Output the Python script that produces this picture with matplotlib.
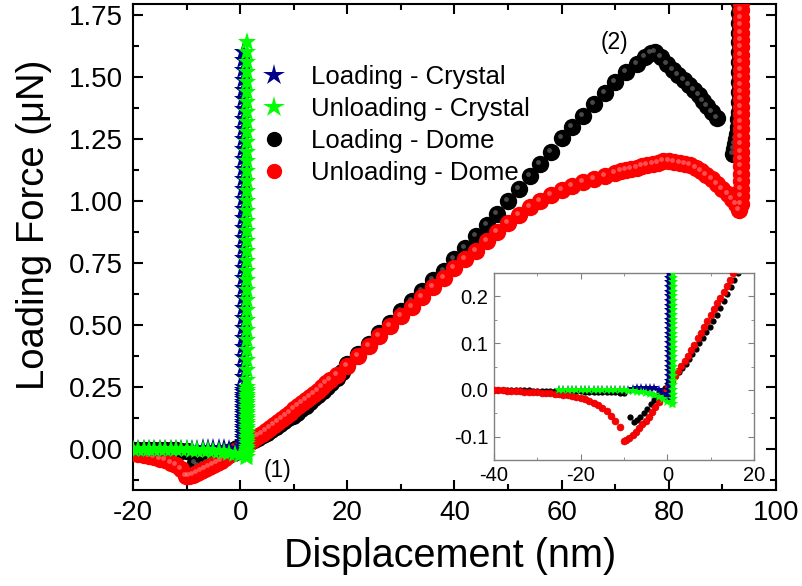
import matplotlib
matplotlib.use("Agg")
import matplotlib.pyplot as plt
from matplotlib.ticker import MultipleLocator
from matplotlib.transforms import offset_copy

plt.rcParams['font.family'] = ['Liberation Sans', 'DejaVu Sans']
plt.rcParams['axes.unicode_minus'] = False

# Loading - Crystal: approach, then vertical rise at one x
lc_app_x = [-25, -24, -23, -22, -21, -20, -19, -18, -17, -16, -15, -14, -13, -12, -11,
            -10, -9, -8, -7, -6, -5, -4, -3, -2, -1, 0.0]
lc_app_y = [0.0, 0.0, 0.0, 0.0, 0.0, 0.0, 0.0, 0.0, 0.0, 0.0, 0.0, 0.0, 0.0, 0.0, 0.0,
            0.0, 0.0, 0.001, 0.003, 0.004, 0.005, 0.005, 0.004, 0.0, -0.008, -0.015]
lc_rise_x = 0.5
lc_rise_y = [-0.02, -0.01, 0.0, 0.01, 0.02, 0.03, 0.04, 0.05, 0.06, 0.07, 0.08, 0.09,
             0.10, 0.11, 0.12, 0.13, 0.14, 0.15, 0.16, 0.17, 0.18, 0.19, 0.20, 0.21,
             0.22, 0.23, 0.24, 0.25, 0.29, 0.33, 0.37, 0.41, 0.45, 0.49, 0.53, 0.57,
             0.61, 0.65, 0.69, 0.73, 0.77, 0.81, 0.85, 0.89, 0.93, 0.97, 1.01, 1.05,
             1.09, 1.13, 1.17, 1.21, 1.25, 1.29, 1.33, 1.37, 1.41, 1.45, 1.49, 1.53,
             1.57, 1.60]

# Unloading - Crystal: vertical drop at one x, then back out
uc_drop_x = 1.3
uc_drop_y = [1.64, 1.60, 1.56, 1.52, 1.48, 1.44, 1.40, 1.36, 1.32, 1.28, 1.24, 1.20,
             1.16, 1.12, 1.08, 1.04, 1.00, 0.96, 0.92, 0.88, 0.84, 0.80, 0.76, 0.72,
             0.68, 0.64, 0.60, 0.56, 0.52, 0.48, 0.44, 0.40, 0.36, 0.32, 0.28, 0.25,
             0.24, 0.23, 0.22, 0.21, 0.20, 0.19, 0.18, 0.17, 0.16, 0.15, 0.14, 0.13,
             0.12, 0.11, 0.10, 0.09, 0.08, 0.07, 0.06, 0.05, 0.04, 0.03, 0.02, 0.01,
             0.0, -0.01, -0.02, -0.03]
uc_ret_x = [1.0, 0.0, -1, -2, -3, -4, -5, -6, -7, -8, -9, -10, -11, -12, -13, -14, -15,
            -16, -17, -18, -19, -20, -21, -22, -23, -24, -25]
uc_ret_y = [-0.03, -0.025, -0.02, -0.016, -0.012, -0.009, -0.007, -0.005, -0.004,
            -0.003, -0.002, -0.001, 0.0, 0.0, 0.0, 0.0, 0.0, 0.0, 0.0, 0.0, 0.0, 0.0,
            0.0, 0.0, 0.0, 0.0, 0.0]

# Loading - Dome
ld_x = [-40, -39, -38, -37, -36, -35, -34, -33, -32, -31, -30, -29, -28, -27, -26, -25,
        -24, -23, -22, -21, -20, -19, -18, -17, -16, -15, -14, -13, -12, -11, -10,
        -8.5, -7.8, -7.0, -6.2, -5.4, -4.6, -3.8, -3.0, -2.2, -1.4, -0.6, 0.2, 1.0, 1.8,
        2.6, 3.4, 4.2, 5.0, 5.8, 6.6, 7.4, 8.2, 9.0, 9.8, 10.6, 11.4, 12.2, 13.0, 13.8,
        14.6, 15.4, 16.2, 17, 18, 19, 20, 22, 24, 26, 28, 30, 32, 34, 36, 38, 40, 42, 44,
        46, 48, 50, 52, 54, 56, 58, 60, 62, 64, 66, 68, 70, 72, 74, 75.5, 76.6,
        77.5, 78.5, 79.6, 80.7, 81.8, 82.8, 83.8, 84.7, 85.6, 86.4, 87.2, 88.0, 88.9,
        92.0, 92.2, 92.4, 92.6, 92.8, 93.0, 93.0, 93.1, 93.1, 93.1, 93.1, 93.1, 93.1,
        93.1, 93.1, 93.1, 93.1, 93.1, 93.1, 93.1, 93.1]
ld_y = [0.0, 0.0, 0.0, 0.0, -0.001, -0.001, -0.001, -0.001, -0.001, -0.002, -0.002,
        -0.002, -0.002, -0.002, -0.002, -0.003, -0.003, -0.003, -0.003, -0.003, -0.003,
        -0.004, -0.004, -0.004, -0.004, -0.005, -0.005, -0.005, -0.005, -0.006, -0.006,
        -0.058, -0.068, -0.064, -0.057, -0.049, -0.040, -0.031, -0.022, -0.013, -0.004,
        0.005, 0.014, 0.022, 0.030, 0.038, 0.046, 0.055, 0.065, 0.076, 0.088, 0.100,
        0.112, 0.124, 0.135, 0.147, 0.160, 0.175, 0.190, 0.205, 0.220, 0.235, 0.250,
        0.265, 0.285, 0.31, 0.345, 0.385, 0.425, 0.467, 0.51, 0.555, 0.597, 0.638, 0.68,
        0.72, 0.765, 0.81, 0.86, 0.905, 0.95, 1.0, 1.05, 1.10, 1.15, 1.20, 1.255, 1.30,
        1.345, 1.39, 1.435, 1.48, 1.52, 1.555, 1.58, 1.598,
        1.60, 1.58, 1.555, 1.53, 1.51, 1.49, 1.47, 1.45, 1.43, 1.405, 1.385, 1.36, 1.335,
        1.19, 1.21, 1.23, 1.25, 1.27, 1.30, 1.33, 1.36, 1.40, 1.44, 1.48, 1.52, 1.56,
        1.60, 1.64, 1.68, 1.72, 1.76, 1.80, 1.84, 1.88]

# Unloading - Dome: vertical drop at one x, then the return path
ud_drop_x = 93.5
ud_drop_y = [1.86, 1.83, 1.80, 1.77, 1.74, 1.71, 1.68, 1.65, 1.62, 1.59, 1.56, 1.53,
             1.50, 1.47, 1.44, 1.41, 1.38, 1.35, 1.32, 1.29, 1.26, 1.23, 1.20, 1.17,
             1.14, 1.11, 1.08, 1.05, 1.02, 0.99]
ud_ret_x = [93.1, 92.5, 91.8, 91, 90, 89, 88, 87, 86, 85, 84, 83, 82, 81, 80, 79, 78,
            77, 76, 75, 74, 73, 72, 71, 70, 68, 66, 64, 62, 60, 58, 56, 54, 52, 50, 48,
            46, 44, 42, 40, 38, 36, 34, 32, 30, 28, 26, 24, 22, 20, 18, 16.75,
            16, 15.25, 14.5, 13.75, 13, 12.25, 11.5, 10.75, 10, 9.25, 8.5, 7.75, 7, 6.25,
            5.5, 4.75, 4, 3.25, 2.5, 1.75, 1, 0.25, -0.5, -1.25, -2, -2.75, -3.5, -4.25,
            -5, -5.75, -6.5, -7.25, -8, -8.75, -9.5, -10.1,
            -11, -12, -13, -14, -15, -16, -17, -18, -19, -20, -21, -22, -23, -24, -25,
            -26, -27, -28, -29, -30, -31, -32, -33, -34, -35, -36, -37, -38, -39, -40]
ud_ret_y = [0.965, 0.99, 1.01, 1.03, 1.05, 1.07, 1.09, 1.105, 1.12, 1.135, 1.145, 1.15,
            1.155, 1.158, 1.16, 1.16, 1.155, 1.15, 1.145, 1.14, 1.135, 1.13, 1.125, 1.12,
            1.113, 1.10, 1.09, 1.078, 1.063, 1.045, 1.025, 1.0, 0.975, 0.945, 0.91, 0.875,
            0.84, 0.80, 0.765, 0.73, 0.69, 0.655, 0.615, 0.575, 0.535, 0.495, 0.455,
            0.415, 0.375, 0.335, 0.30, 0.278,
            0.265, 0.25, 0.234, 0.222, 0.21, 0.197, 0.185, 0.172, 0.16, 0.147, 0.135,
            0.122, 0.11, 0.097, 0.085, 0.073, 0.062, 0.051, 0.04, 0.029, 0.018, 0.006,
            -0.005, -0.015, -0.025, -0.036, -0.048, -0.057, -0.066, -0.074, -0.082,
            -0.09, -0.097, -0.103, -0.107, -0.109,
            -0.08, -0.066, -0.055, -0.046, -0.039, -0.033, -0.028, -0.024, -0.02, -0.017,
            -0.015, -0.013, -0.011, -0.01, -0.009, -0.008, -0.007, -0.006, -0.006, -0.005,
            -0.005, -0.004, -0.004, -0.003, -0.003, -0.002, -0.002, -0.001, -0.001, 0.0]

etiquetas = ["Loading - Crystal", "Unloading - Crystal", "Loading - Dome", "Unloading - Dome"]
colores = ["#00008b", "#00ff00", "black", "#ff0000"]

# series assembled in drawing order
lc_x = lc_app_x + [lc_rise_x] * len(lc_rise_y)
lc_y = lc_app_y + lc_rise_y
uc_x = [uc_drop_x] * len(uc_drop_y) + uc_ret_x
uc_y = uc_drop_y + uc_ret_y
ud_x = [ud_drop_x] * len(ud_drop_y) + ud_ret_x
ud_y = ud_drop_y + ud_ret_y

fig = plt.figure(figsize=(8.03, 5.86), dpi=100)
ax = fig.add_axes([133 / 803, 1 - 490 / 586, 643 / 803, 486 / 586])

# sphere-like look: a small lighter spot up and left of each marker
brillo = offset_copy(ax.transData, fig=fig, x=-2, y=2, units='dots')
ax.plot(ld_x, ld_y, 'o', ms=12.5, color=colores[2], mew=0, zorder=2)
ax.plot(ld_x, ld_y, 'o', ms=3.5, color='#a0a0a0', mew=0, alpha=0.45, zorder=2.1,
        transform=brillo)
ax.plot(ud_x, ud_y, 'o', ms=12.5, color=colores[3], mew=0, zorder=3)
ax.plot(ud_x, ud_y, 'o', ms=3.5, color='#ffb0b0', mew=0, alpha=0.45, zorder=3.1,
        transform=brillo)
ax.plot(lc_x, lc_y, '*', ms=14, color=colores[0], mew=0, zorder=4)
ax.plot(uc_x, uc_y, '*', ms=14, color=colores[1], mew=0, zorder=5)

ax.set_xlim(-20, 100)
ax.set_ylim(-0.165, 1.795)
ax.xaxis.set_major_locator(MultipleLocator(20))
ax.xaxis.set_minor_locator(MultipleLocator(10))
ax.yaxis.set_major_locator(MultipleLocator(0.25))
ax.yaxis.set_minor_locator(MultipleLocator(0.125))
ax.tick_params(which='both', direction='in', top=True, right=True, width=1.5)
ax.tick_params(which='major', length=7, labelsize=20, pad=7)
ax.tick_params(which='minor', length=4)
for s in ax.spines.values():
    s.set_linewidth(1.5)

ax.set_xlabel("Displacement (nm)", fontsize=28.5)
ax.set_ylabel("Loading Force (\u03bcN)", fontsize=27.5)
ax.xaxis.set_label_coords(0.493, -0.097)
ax.yaxis.set_label_coords(-0.126, 0.545)

ax.text(6.9, -0.085, "(1)", fontsize=16.5, ha='center', va='center')
ax.text(69.9, 1.64, "(2)", fontsize=16.5, ha='center', va='center')

handles = [
    plt.Line2D([], [], ls='none', marker='*', ms=16, color=colores[0], mew=0),
    plt.Line2D([], [], ls='none', marker='*', ms=16, color=colores[1], mew=0),
    plt.Line2D([], [], ls='none', marker='o', ms=10, color=colores[2]),
    plt.Line2D([], [], ls='none', marker='o', ms=10, color=colores[3]),
]
ax.legend(handles, etiquetas, loc='upper left', bbox_to_anchor=(0.199, 0.875),
          frameon=False, fontsize=18.5, borderpad=0, handlelength=1.0,
          handletextpad=0.95, labelspacing=0.32, borderaxespad=0)

# inset
axi = fig.add_axes([494 / 803, 1 - 460 / 586, 260 / 803, 187 / 586])
axi.plot(ld_x, ld_y, 'o', ms=4.5, color=colores[2], mew=0, zorder=2)
axi.plot(ud_x, ud_y, 'o', ms=5, color=colores[3], mec='#d00000', mew=0.4, zorder=3)
axi.plot(lc_x, lc_y, '*', ms=7, color=colores[0], mew=0, zorder=4)
axi.plot(uc_x, uc_y, '*', ms=7, color=colores[1], mew=0, zorder=5)
axi.set_xlim(-40, 20)
axi.set_ylim(-0.15, 0.25)
axi.xaxis.set_major_locator(MultipleLocator(20))
axi.xaxis.set_minor_locator(MultipleLocator(10))
axi.yaxis.set_major_locator(MultipleLocator(0.1))
axi.yaxis.set_minor_locator(MultipleLocator(0.05))
axi.tick_params(which='both', direction='in', top=True, right=True, color='#808080')
axi.tick_params(which='major', length=4, labelsize=14.5, pad=4)
axi.tick_params(which='minor', length=2.5)
for s in axi.spines.values():
    s.set_color('#808080')
    s.set_linewidth(1.0)

plt.savefig("out.png", dpi=100)
